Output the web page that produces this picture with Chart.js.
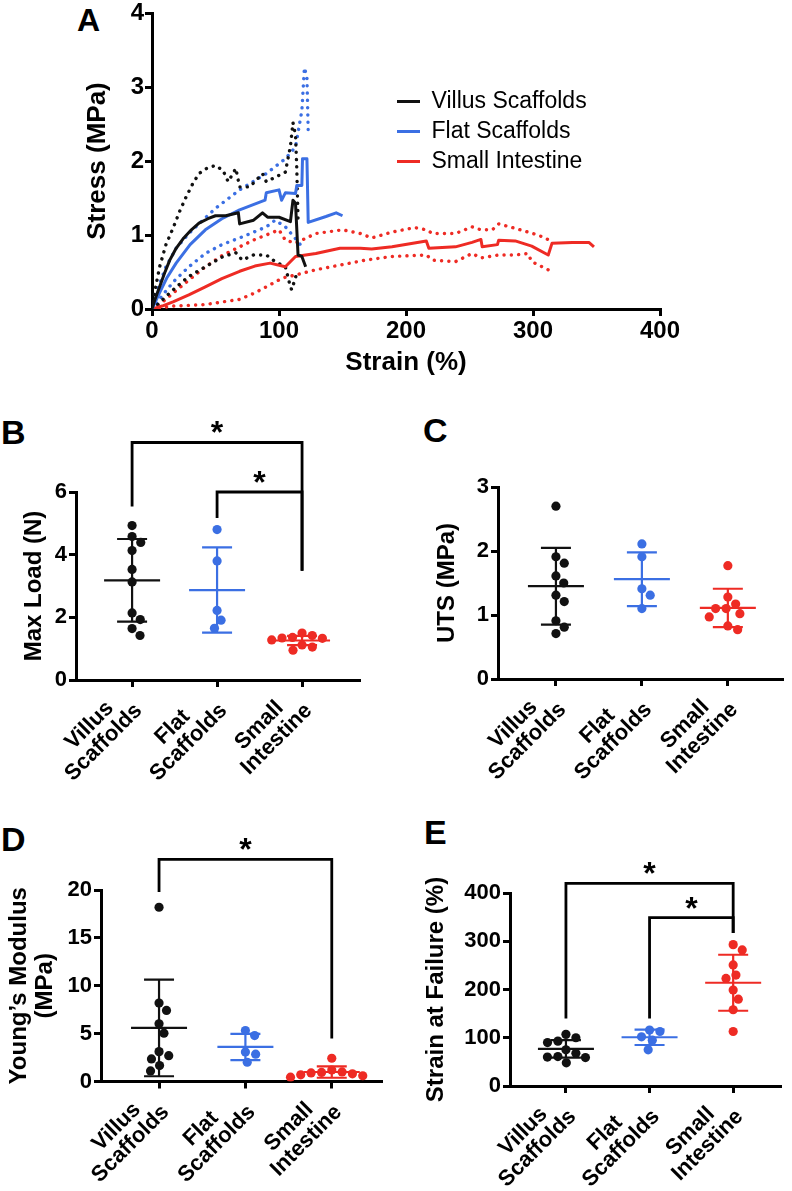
<!DOCTYPE html>
<html>
<head>
<meta charset="utf-8">
<title>Scaffold mechanics</title>
<script src="https://cdn.jsdelivr.net/npm/chart.js@4.4.1/dist/chart.umd.min.js"></script>
<style>
  body { margin: 0; background: #fff; }
  #page { position: relative; width: 792px; height: 1191px; overflow: hidden; font-family: "Liberation Sans", Arial, sans-serif; }
  #page canvas { position: absolute; }
  .letter { position: absolute; font-weight: bold; line-height: 1; color: #000; }
</style>
</head>
<body>
<div id="page">
  <div class="letter" style="left:77px;top:4px;font-size:32px">A</div>
  <div class="letter" style="left:1px;top:415px;font-size:34px">B</div>
  <div class="letter" style="left:423px;top:413px;font-size:34px">C</div>
  <div class="letter" style="left:1px;top:822px;font-size:34px">D</div>
  <div class="letter" style="left:424px;top:815px;font-size:34px">E</div>
  <canvas id="chartA" width="700" height="385" style="left:0;top:0"></canvas>
  <canvas id="chartB" width="395" height="385" style="left:0;top:400px"></canvas>
  <canvas id="chartC" width="392" height="385" style="left:400px;top:400px"></canvas>
  <canvas id="chartD" width="395" height="401" style="left:0;top:790px"></canvas>
  <canvas id="chartE" width="392" height="401" style="left:400px;top:790px"></canvas>
</div>
<script>
// ---- values ----
const groupNames = ['Villus Scaffolds', 'Flat Scaffolds', 'Small Intestine'];

// A: stress-strain curves as [strain %, stress MPa]; mean and mean +/- SD
const villusMean = [[0,0],[2,0.11],[4,0.21],[6,0.30],[10,0.49],[14,0.66],[19,0.82],[25,0.96],[31,1.07],[37,1.16],[44,1.22],[50,1.26],[58,1.26],[68,1.30],[69,1.15],[80,1.20],[87,1.30],[91,1.24],[100,1.24],[109,1.18],[111,1.47],[113,1.43],[115,0.73],[118,0.71],[121,0.57]];
const villusUpper = [[0,0],[2,0.22],[6,0.57],[11,0.87],[17,1.11],[22,1.33],[27,1.52],[32,1.69],[37,1.83],[43,1.90],[50,1.94],[56,1.87],[60,1.72],[66,1.90],[69,1.65],[77,1.65],[87,1.83],[90,1.72],[105,1.85],[109,2.20],[111,2.52],[113,2.35],[114,1.90],[115,1.20]];
const villusLower = [[0,0],[5,0.07],[11,0.17],[20,0.31],[29,0.44],[42,0.57],[56,0.71],[66,0.76],[71,0.66],[80,0.73],[90,0.73],[97,0.64],[105,0.57],[109,0.30],[110,0.26],[114,0.48]];
const flatMean = [[0,0],[3,0.11],[6,0.22],[12,0.43],[19,0.62],[30,0.87],[42,1.07],[55,1.22],[69,1.34],[89,1.47],[90,1.57],[100,1.61],[102,1.47],[105,1.57],[113,1.56],[114,1.67],[118,1.67],[118.5,2.03],[122,2.03],[123,1.17],[137,1.25],[145,1.30],[150,1.26]];
const flatUpper = [[0,0],[4,0.25],[11,0.57],[19,0.82],[29,1.02],[40,1.20],[50,1.36],[69,1.61],[90,1.83],[105,2.03],[113,2.19],[118,2.68],[120,3.26],[122,3.13],[123,2.40]];
const flatLower = [[0,0],[8,0.18],[17,0.37],[29,0.57],[42,0.75],[55,0.87],[69,0.96],[90,1.11],[97,1.20],[105,1.11],[114,0.93],[120,0.80]];
const intestineMean = [[0,0],[8,0.04],[17,0.10],[29,0.19],[42,0.30],[55,0.41],[69,0.51],[81,0.58],[93,0.62],[105,0.57],[113,0.71],[129,0.75],[148,0.82],[164,0.82],[173,0.81],[189,0.84],[216,0.92],[218,0.82],[239,0.84],[252,0.90],[259,0.94],[260,0.84],[272,0.87],[273,0.93],[286,0.92],[299,0.85],[312,0.73],[315,0.89],[331,0.90],[344,0.90],[348,0.84]];
const intestineUpper = [[0,0],[8,0.09],[17,0.22],[29,0.39],[42,0.57],[55,0.72],[69,0.84],[81,0.94],[93,1.02],[100,1.07],[105,0.93],[113,0.89],[129,1.02],[150,1.07],[164,1.02],[173,0.96],[189,1.04],[207,1.10],[216,1.07],[221,1.02],[239,1.02],[252,1.11],[259,1.07],[268,1.07],[273,1.15],[286,1.09],[304,1.00],[313,0.93]];
const intestineLower = [[0,0],[17,0.04],[42,0.06],[69,0.13],[80,0.21],[90,0.30],[103,0.42],[113,0.46],[129,0.53],[150,0.60],[168,0.66],[189,0.71],[216,0.73],[221,0.66],[239,0.64],[252,0.75],[259,0.69],[273,0.73],[286,0.73],[296,0.75],[299,0.64],[312,0.53]];
const strainTicks = [0, 100, 200, 300, 400];
const stressTicks = [0, 1, 2, 3, 4];

// B: max load (N)
const maxLoadVillus = [4.93, 4.58, 4.39, 4.13, 3.53, 3.13, 2.14, 1.93, 1.64, 1.42];
const maxLoadFlat = [4.80, 3.80, 2.22, 1.91, 1.65];
const maxLoadIntestine = [1.50, 1.42, 1.36, 1.34, 1.33, 1.28, 1.12, 1.05, 0.95];
const maxLoadMean = [3.18, 2.87, 1.26];
const maxLoadSD = [1.32, 1.36, 0.15];
const maxLoadTicks = [0, 2, 4, 6];

// C: ultimate tensile strength (MPa)
const utsVillus = [2.70, 1.91, 1.81, 1.61, 1.50, 1.31, 1.21, 0.91, 0.81, 0.71];
const utsFlat = [2.11, 1.91, 1.41, 1.31, 1.10];
const utsIntestine = [1.77, 1.28, 1.17, 1.10, 1.10, 1.02, 0.97, 0.83, 0.77];
const utsMean = [1.45, 1.56, 1.11];
const utsSD = [0.60, 0.42, 0.30];
const utsTicks = [0, 1, 2, 3];

// D: Young's modulus (MPa)
const youngVillus = [18.2, 8.19, 7.42, 6.02, 5.05, 3.12, 2.70, 2.36, 1.66, 1.10];
const youngFlat = [5.32, 4.80, 3.09, 2.85, 2.01];
const youngIntestine = [2.43, 1.20, 1.00, 0.95, 0.90, 0.80, 0.70, 0.60, 0.45];
const youngMean = [5.60, 3.61, 0.99];
const youngSD = [5.05, 1.37, 0.60];
const youngTicks = [0, 5, 10, 15, 20];

// E: strain at failure (%)
const failVillus = [107, 100, 93, 90, 75, 68, 61, 60, 59, 48];
const failFlat = [116, 113, 102, 95, 75];
const failIntestine = [293, 282, 251, 230, 223, 199, 180, 158, 113];
const failMean = [77, 101, 214];
const failSD = [18, 16, 58];
const failTicks = [0, 100, 200, 300, 400];

// ---- styling ----
const FONT = '"Liberation Sans", Arial, Helvetica, sans-serif';
Chart.defaults.font.family = FONT;
Chart.defaults.color = '#000';
const groupColors = ['#111111', '#3b6fe3', '#ee2b24'];
const axisBorder = { display: true, color: '#000', width: 3 };
const tickGrid = { drawOnChartArea: false, drawTicks: true, tickLength: 7, color: '#000', lineWidth: 3 };

// pad the shorter line so a two-line label reads centred when right-aligned
function centredLines(name, font) {
  const ctx = document.createElement('canvas').getContext('2d');
  ctx.font = `${font.weight} ${font.size}px ${FONT}`;
  const lines = name.split(' ');
  const widest = Math.max(...lines.map(l => ctx.measureText(l).width));
  const sp = ctx.measureText(' ').width;
  return lines.map(l => l + ' '.repeat(Math.round((widest - ctx.measureText(l).width) / 2 / sp)));
}

// mean line with SD whiskers for each group
const meanSDPlugin = {
  id: 'meanSD',
  beforeDatasetsDraw(chart, args, opts) {
    const { ctx, scales: { x, y } } = chart;
    ctx.save();
    ctx.lineWidth = 2.2;
    opts.mean.forEach((m, gi) => {
      const cx = x.getPixelForValue(gi);
      const ym = y.getPixelForValue(m);
      const yt = y.getPixelForValue(m + opts.sd[gi]);
      const yb = y.getPixelForValue(m - opts.sd[gi]);
      ctx.strokeStyle = groupColors[gi];
      ctx.beginPath();
      ctx.moveTo(cx - 28, ym); ctx.lineTo(cx + 28, ym);
      ctx.moveTo(cx - 15, yt); ctx.lineTo(cx + 15, yt);
      ctx.moveTo(cx - 15, yb); ctx.lineTo(cx + 15, yb);
      ctx.moveTo(cx, yt); ctx.lineTo(cx, yb);
      ctx.stroke();
    });
    ctx.restore();
  }
};

// significance brackets with a star
const bracketPlugin = {
  id: 'brackets',
  afterDraw(chart, args, opts) {
    const { ctx, scales: { x, y } } = chart;
    ctx.save();
    ctx.strokeStyle = '#000';
    ctx.fillStyle = '#000';
    ctx.lineWidth = 2.8;
    ctx.font = `bold 32px ${FONT}`;
    ctx.textAlign = 'center';
    ctx.textBaseline = 'alphabetic';
    opts.items.forEach(b => {
      const x1 = x.getPixelForValue(b.from), x2 = x.getPixelForValue(b.to);
      const yl = y.getPixelForValue(b.level);
      ctx.beginPath();
      ctx.moveTo(x1, y.getPixelForValue(b.leftEnd));
      ctx.lineTo(x1, yl);
      ctx.lineTo(x2, yl);
      ctx.lineTo(x2, y.getPixelForValue(b.rightEnd));
      ctx.stroke();
      ctx.fillText('*', (x1 + x2) / 2, yl + 1);
    });
    ctx.restore();
  }
};

// move the legend box inside the plot
const legendPlacer = {
  id: 'legendPlacer',
  afterLayout(chart, args, opts) {
    const lg = chart.legend;
    if (!lg) return;
    const w = lg.width, h = lg.height;
    lg.left = opts.x; lg.top = opts.y;
    lg.right = opts.x + w; lg.bottom = opts.y + h;
  }
};

// spread overlapping dots sideways (beeswarm)
function spreadDots(chart, diameter) {
  const xs = chart.scales.x, ys = chart.scales.y;
  const pxPerUnit = xs.getPixelForValue(1) - xs.getPixelForValue(0);
  chart.data.datasets.forEach((ds, gi) => {
    const pts = ds.data.map((p, i) => ({ i, py: ys.getPixelForValue(p.y) }));
    pts.sort((a, b) => a.py - b.py);
    const placed = [];
    pts.forEach(p => {
      const cands = [0];
      placed.forEach(q => {
        const dy = p.py - q.py;
        if (Math.abs(dy) < diameter) {
          const dx = Math.sqrt(diameter * diameter - dy * dy);
          cands.push(q.dx + dx, q.dx - dx);
        }
      });
      cands.sort((a, b) => Math.abs(a) - Math.abs(b));
      p.dx = cands.find(c => placed.every(q => (c - q.dx) ** 2 + (p.py - q.py) ** 2 >= diameter * diameter - 0.01));
      placed.push(p);
    });
    pts.forEach(p => { ds.data[p.i].x = gi + p.dx / pxPerUnit; });
  });
  chart.update('none');
}

// ---- panel A ----
function curve(pts, color, dotted, label) {
  return {
    label,
    data: pts.map(([x, y]) => ({ x, y })),
    borderColor: color,
    backgroundColor: color,
    borderWidth: dotted ? 3.4 : 3,
    borderDash: dotted ? [0.1, 7.2] : [],
    borderCapStyle: dotted ? 'round' : 'butt',
    borderJoinStyle: 'round',
    pointRadius: 0,
    showLine: true,
    tension: 0
  };
}

new Chart(document.getElementById('chartA'), {
  type: 'scatter',
  data: {
    datasets: [
      curve(villusMean, groupColors[0], false, groupNames[0]),
      curve(flatMean, groupColors[1], false, groupNames[1]),
      curve(intestineMean, groupColors[2], false, groupNames[2]),
      curve(villusUpper, groupColors[0], true, 'Villus +SD'),
      curve(villusLower, groupColors[0], true, 'Villus -SD'),
      curve(flatUpper, groupColors[1], true, 'Flat +SD'),
      curve(flatLower, groupColors[1], true, 'Flat -SD'),
      curve(intestineUpper, groupColors[2], true, 'Intestine +SD'),
      curve(intestineLower, groupColors[2], true, 'Intestine -SD')
    ]
  },
  options: {
    responsive: false,
    animation: false,
    events: [],
    layout: { padding: { left: 82, top: 12, right: 40, bottom: 7 } },
    scales: {
      x: {
        type: 'linear',
        min: strainTicks[0], max: strainTicks[strainTicks.length - 1],
        afterBuildTicks: s => { s.ticks = strainTicks.map(v => ({ value: v })); },
        afterFit: s => { s.height = 69; },
        ticks: { padding: 1, font: { size: 24, weight: 'bold' } },
        grid: tickGrid,
        border: axisBorder,
        title: { display: true, text: 'Strain (%)', padding: 0, font: { size: 26, weight: 'bold' } }
      },
      y: {
        min: stressTicks[0], max: stressTicks[stressTicks.length - 1],
        afterBuildTicks: s => { s.ticks = stressTicks.map(v => ({ value: v })); },
        afterFit: s => { s.width = 70; },
        ticks: { padding: 1, font: { size: 24, weight: 'bold', lineHeight: 1 } },
        grid: tickGrid,
        border: axisBorder,
        title: { display: true, text: 'Stress (MPa)', padding: 0, font: { size: 26, weight: 'bold' } }
      }
    },
    plugins: {
      tooltip: { enabled: false },
      legend: {
        display: true,
        position: 'chartArea',
        align: 'start',
        labels: {
          filter: item => item.datasetIndex < 3,
          usePointStyle: true,
          pointStyle: 'line',
          pointStyleWidth: 23,
          padding: 7,
          color: '#000',
          font: { size: 23, weight: 'normal' }
        }
      },
      legendPlacer: { x: 390, y: 83 }
    }
  },
  plugins: [legendPlacer]
});

// ---- panels B-E ----
function dotPanel(canvasId, p) {
  const catFont = { size: 22, weight: 'bold', lineHeight: 1.0 };
  const catLabels = groupNames.map(n => centredLines(n, catFont));
  const chart = new Chart(document.getElementById(canvasId), {
    type: 'scatter',
    data: {
      datasets: p.groups.map((vals, gi) => ({
        label: groupNames[gi],
        data: vals.map(v => ({ x: gi, y: v })),
        backgroundColor: groupColors[gi],
        borderWidth: 0,
        pointRadius: 4.6
      }))
    },
    options: {
      responsive: false,
      animation: false,
      events: [],
      layout: { padding: p.padding },
      scales: {
        x: {
          type: 'linear',
          min: p.xRange[0], max: p.xRange[1],
          afterBuildTicks: s => { s.ticks = groupNames.map((n, i) => ({ value: i })); },
          afterFit: s => { s.height = 100; },
          ticks: { callback: v => catLabels[v], minRotation: 45, maxRotation: 45, padding: -3, labelOffset: -9, font: catFont },
          grid: tickGrid,
          border: axisBorder
        },
        y: {
          min: p.yTicks[0], max: p.yTicks[p.yTicks.length - 1],
          afterBuildTicks: s => { s.ticks = p.yTicks.map(v => ({ value: v })); },
          afterFit: s => { s.width = p.yWidth; },
          ticks: { padding: 2, font: { size: 22, weight: 'bold' } },
          grid: tickGrid,
          border: axisBorder,
          title: { display: true, text: p.title, padding: 0, font: { size: 24, weight: 'bold', lineHeight: p.titleLineHeight || 1.2 } }
        }
      },
      plugins: {
        legend: { display: false },
        tooltip: { enabled: false },
        meanSD: { mean: p.mean, sd: p.sd },
        brackets: { items: p.brackets || [] }
      }
    },
    plugins: [meanSDPlugin, bracketPlugin]
  });
  spreadDots(chart, 10.5);
  return chart;
}

dotPanel('chartB', {
  groups: [maxLoadVillus, maxLoadFlat, maxLoadIntestine],
  mean: maxLoadMean, sd: maxLoadSD, yTicks: maxLoadTicks,
  title: 'Max Load (N)',
  xRange: [-0.66, 2.67],
  yWidth: 56,
  padding: { left: 20, top: 92, right: 36, bottom: 5 },
  brackets: [
    { from: 0, to: 2, level: 7.58, leftEnd: 5.54, rightEnd: 3.49 },
    { from: 1, to: 2, level: 6.0, leftEnd: 5.17, rightEnd: 3.49 }
  ]
});

dotPanel('chartC', {
  groups: [utsVillus, utsFlat, utsIntestine],
  mean: utsMean, sd: utsSD, yTicks: utsTicks,
  title: 'UTS (MPa)',
  xRange: [-0.674, 2.63],
  yWidth: 65,
  padding: { left: 33, top: 87, right: 10, bottom: 6 }
});

dotPanel('chartD', {
  groups: [youngVillus, youngFlat, youngIntestine],
  mean: youngMean, sd: youngSD, yTicks: youngTicks,
  title: ['Young\u2019s Modulus', '(MPa)'],
  titleLineHeight: 1.08,
  xRange: [-0.672, 2.57],
  yWidth: 94.5,
  padding: { left: 6.5, top: 100, right: 14, bottom: 9.5 },
  brackets: [
    { from: 0, to: 2, level: 23.2, leftEnd: 19.8, rightEnd: 4.5 }
  ]
});

dotPanel('chartE', {
  groups: [failVillus, failFlat, failIntestine],
  mean: failMean, sd: failSD, yTicks: failTicks,
  title: 'Strain at Failure (%)',
  xRange: [-0.669, 2.56],
  yWidth: 88,
  padding: { left: 22, top: 103, right: 12, bottom: 5 },
  brackets: [
    { from: 0, to: 2, level: 420, leftEnd: 140, rightEnd: 317 },
    { from: 1, to: 2, level: 349, leftEnd: 140, rightEnd: 317 }
  ]
});
</script>
</body>
</html>
